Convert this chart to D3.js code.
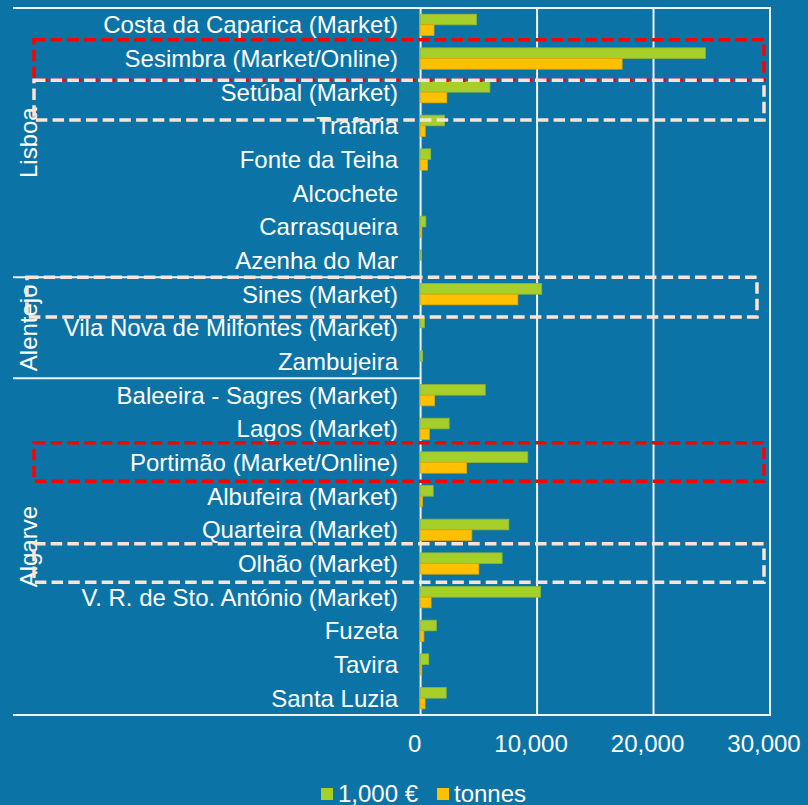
<!DOCTYPE html>
<html><head><meta charset="utf-8">
<script src="https://cdn.jsdelivr.net/npm/d3@7"></script>
<style>
html,body{margin:0;padding:0;background:#0b73a6;}
svg{display:block;font-family:"Liberation Sans",Arial,sans-serif;}
</style></head>
<body>
<svg id="chart" width="808" height="805"></svg>
<script>
const categories = ["Costa da Caparica (Market)","Sesimbra (Market/Online)","Setúbal (Market)","Trafaria","Fonte da Teiha","Alcochete","Carrasqueira","Azenha do Mar","Sines (Market)","Vila Nova de Milfontes (Market)","Zambujeira","Baleeira - Sagres (Market)","Lagos (Market)","Portimão (Market/Online)","Albufeira (Market)","Quarteira (Market)","Olhão (Market)","V. R. de Sto. António (Market)","Fuzeta","Tavira","Santa Luzia"];
const valueThousandEur = [4800,24450,5950,2050,870,0,450,80,10400,330,180,5550,2450,9200,1080,7580,7000,10300,1350,700,2200];
const tonnes = [1150,17300,2250,400,600,0,100,0,8350,0,0,1200,750,3950,150,4400,5000,900,280,100,380];
const groups = [{name:"Lisboa",count:8},{name:"Alentejo",count:3},{name:"Algarve",count:10}];
const xTicks = [0,10000,20000,30000];
const seriesNames = ["1,000 €","tonnes"];
const annotations = [
  {cat:"Sesimbra (Market/Online)", color:"#ff0000", padTop:2, padBottom:5},
  {cat:"Setúbal (Market)", color:"#fbe3d5", padTop:-5, padBottom:11},
  {cat:"Sines (Market)", color:"#fbe3d5", padTop:0, padBottom:6, left:27, right:757},
  {cat:"Portimão (Market/Online)", color:"#ff0000", padTop:3, padBottom:2},
  {cat:"Olhão (Market)", color:"#fbe3d5", padTop:3, padBottom:2}
];

const colors = {fill:["#a6cf2a","#ffc000"], stroke:["#8cb43a","#e0a800"]};
const lineCol = "#f2f2f2";
const FS = 24;
const svg = d3.select("#chart");
const L = 420.6, R = 770, T = 8, B = 715;

const x = d3.scaleLinear().domain([0,30000]).range([L,R]);
const y = d3.scaleBand().domain(categories).range([T,B]).padding(0);
const ySub = d3.scaleBand().domain([0,1]).range([0,y.bandwidth()]).paddingInner(0).paddingOuter(0.58);

// gridlines
svg.append("g").selectAll("line").data(xTicks).join("line")
  .attr("x1",d=>x(d)).attr("x2",d=>x(d)).attr("y1",T).attr("y2",B)
  .attr("stroke",lineCol).attr("stroke-width",2);
// top & bottom lines extended left
svg.append("line").attr("x1",13).attr("x2",R+1).attr("y1",T).attr("y2",T).attr("stroke",lineCol).attr("stroke-width",2);
svg.append("line").attr("x1",13).attr("x2",R+1).attr("y1",B).attr("y2",B).attr("stroke",lineCol).attr("stroke-width",2);

// group separators & labels
let start = 0;
groups.forEach((g,i)=>{
  const y0 = y(categories[start]);
  const y1 = y(categories[start+g.count-1]) + y.bandwidth();
  if(i>0){
    svg.append("line").attr("x1",13).attr("x2",L).attr("y1",y0).attr("y2",y0).attr("stroke",lineCol).attr("stroke-width",2);
  }
  svg.append("text").attr("transform",`translate(37,${(y0+y1)/2}) rotate(-90)`)
    .attr("text-anchor","middle").attr("fill","#fff").attr("font-size",FS).text(g.name);
  start += g.count;
});

// category labels
svg.append("g").selectAll("text").data(categories).join("text")
  .attr("x",398).attr("y",d=>y(d)+y.bandwidth()/2).attr("dy","0.35em")
  .attr("text-anchor","end").attr("fill","#fff").attr("font-size",FS).text(d=>d);

// bars
const series = [valueThousandEur, tonnes];
series.forEach((vals,si)=>{
  svg.append("g").selectAll("rect").data(categories).join("rect")
    .attr("x",x(0)).attr("y",d=>y(d)+ySub(si))
    .attr("width",(d,i)=>Math.max(0,x(vals[i])-x(0)))
    .attr("height",ySub.bandwidth())
    .attr("fill",colors.fill[si]).attr("stroke",(d,i)=>vals[i]>0?colors.stroke[si]:"none").attr("stroke-width",0.8);
});

// x tick labels
svg.append("g").selectAll("text").data(xTicks).join("text")
  .attr("x",d=>x(d)-6).attr("y",744).attr("dy","0.35em").attr("text-anchor","middle")
  .attr("fill","#fff").attr("font-size",FS).text(d=>d3.format(",")(d));

// legend
const lg = svg.append("g");
const legX = [321, 437];
seriesNames.forEach((n,i)=>{
  lg.append("rect").attr("x",legX[i]).attr("y",788).attr("width",12).attr("height",12).attr("fill",colors.fill[i]);
  lg.append("text").attr("x",legX[i]+17).attr("y",794).attr("dy","0.35em").attr("fill","#fff").attr("font-size",FS).text(n);
});

// annotation rectangles
annotations.forEach(a=>{
  const top = y(a.cat) - a.padTop;
  const bot = y(a.cat) + y.bandwidth() + a.padBottom;
  const left = a.left || 34, right = a.right || 764;
  svg.append("rect").attr("x",left).attr("y",top).attr("width",right-left).attr("height",bot-top)
    .attr("fill","none").attr("stroke",a.color).attr("stroke-width",3.5)
    .attr("stroke-dasharray","11.5,5.2");
});
</script>
</body></html>
